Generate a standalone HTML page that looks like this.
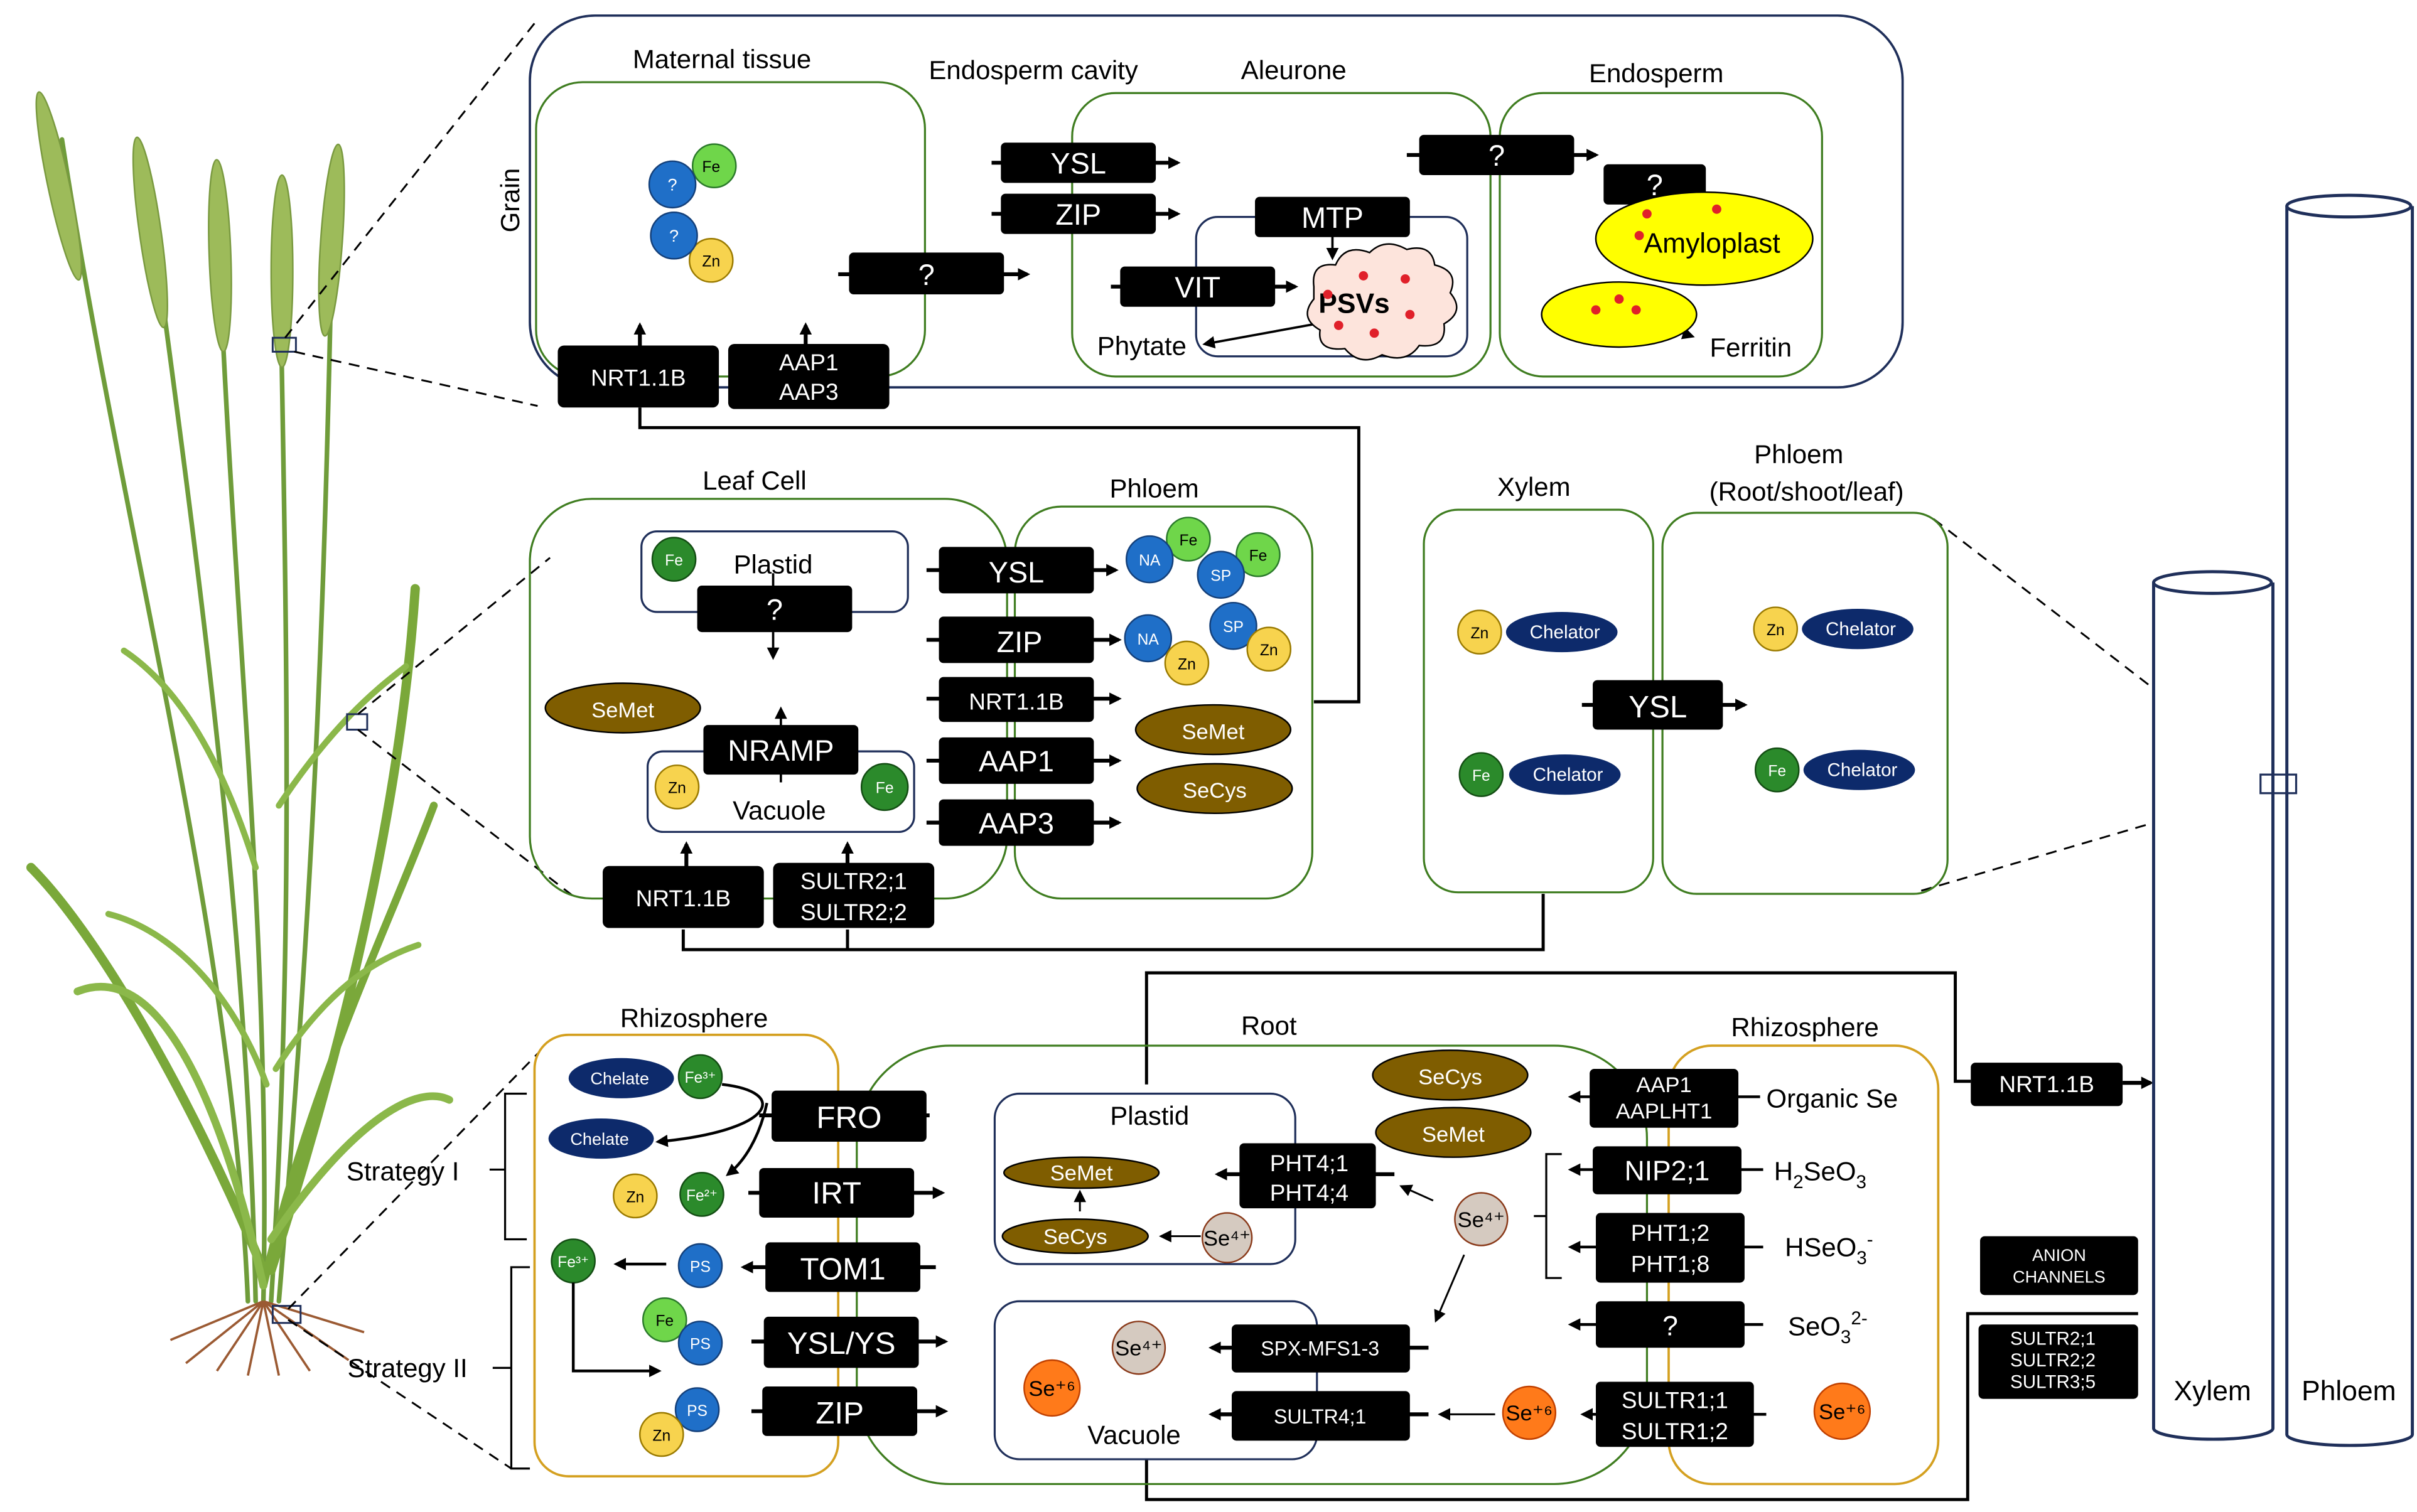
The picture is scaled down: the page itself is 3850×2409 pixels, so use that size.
<!DOCTYPE html>
<html><head><meta charset="utf-8"><style>
html,body{margin:0;padding:0;background:#fff}
svg{display:block}
text{font-family:"Liberation Sans",sans-serif}
</style></head><body>
<svg width="3850" height="2409" viewBox="0 0 1560 976" xmlns="http://www.w3.org/2000/svg">
<defs>
<marker id="a" markerWidth="8" markerHeight="8" refX="6" refY="4" orient="auto" markerUnits="userSpaceOnUse"><path d="M0,0 L8,4 L0,8 z" fill="#000"/></marker>
</defs>
<rect width="1560" height="976" fill="#fff"/>

<!-- ===== Plant ===== -->
<g fill="none" stroke-linecap="round">
<path d="M160,840 C150,600 80,350 40,90" stroke="#6f9c3a" stroke-width="3"/>
<path d="M165,840 C160,600 130,380 95,120" stroke="#6f9c3a" stroke-width="3"/>
<path d="M170,840 C175,600 150,400 140,130" stroke="#6f9c3a" stroke-width="3"/>
<path d="M175,840 C190,600 185,420 180,130" stroke="#6f9c3a" stroke-width="3"/>
<path d="M180,840 C200,600 210,420 215,110" stroke="#6f9c3a" stroke-width="3"/>
<path d="M170,820 C120,700 60,600 20,560" stroke="#7aa83a" stroke-width="6"/>
<path d="M175,820 C230,650 260,500 268,380" stroke="#7aa83a" stroke-width="6"/>
<path d="M170,830 C200,700 250,600 280,520" stroke="#7aa83a" stroke-width="5"/>
<path d="M170,830 C140,700 100,620 50,640" stroke="#8bb84a" stroke-width="5"/>
<path d="M175,800 C230,720 270,700 290,710" stroke="#8bb84a" stroke-width="5"/>
<path d="M165,560 C140,480 110,440 80,420" stroke="#8bb84a" stroke-width="4"/>
<path d="M180,520 C220,460 250,440 262,430" stroke="#8bb84a" stroke-width="4"/>
<path d="M172,700 C150,640 110,600 70,590" stroke="#8bb84a" stroke-width="4"/>
<path d="M178,690 C210,640 240,620 270,610" stroke="#8bb84a" stroke-width="4"/>
</g>
<g fill="#9dbb5a" stroke="#7a9a40" stroke-width="1">
<ellipse cx="38" cy="120" rx="7" ry="62" transform="rotate(-12 38 120)"/>
<ellipse cx="97" cy="150" rx="7" ry="62" transform="rotate(-8 97 150)"/>
<ellipse cx="142" cy="165" rx="7" ry="62" transform="rotate(-2 142 165)"/>
<ellipse cx="182" cy="175" rx="7" ry="62"/>
<ellipse cx="214" cy="155" rx="7" ry="62" transform="rotate(4 214 155)"/>
</g>
<g stroke="#9b5a33" stroke-width="1.5" fill="none">
<path d="M170,840 L120,880 M170,840 L140,885 M170,840 L160,888 M170,840 L180,888 M170,840 L200,885 M170,840 L225,878 M170,840 L110,865 M170,840 L235,860"/>
</g>
<rect x="176" y="218" width="15" height="9" fill="none" stroke="#1f2f5a" stroke-width="1.2"/>
<rect x="224" y="461" width="13" height="10" fill="none" stroke="#1f2f5a" stroke-width="1.2"/>
<rect x="176" y="843" width="18" height="11" fill="none" stroke="#1f2f5a" stroke-width="1.2"/>
<g stroke="#000" stroke-width="1.2" stroke-dasharray="7,5" fill="none">
<path d="M184,218 L345,15"/><path d="M190,227 L347,262"/>
<path d="M231,461 L355,360"/><path d="M231,471 L372,580"/>
<path d="M186,845 L355,672"/><path d="M186,852 L330,948"/>
<path d="M1248,335 L1462,500"/><path d="M1240,575 L1462,510"/>
</g>

<!-- ===== Grain ===== -->
<rect x="342" y="10" width="886" height="240" rx="42" fill="none" stroke="#1f2f5a" stroke-width="1.5"/>
<text x="335" y="150" font-size="17" transform="rotate(-90 335 150)">Grain</text>
<rect x="346" y="53" width="251" height="190" rx="30" fill="none" stroke="#3f7d20" stroke-width="1.3"/>
<rect x="692" y="60" width="270" height="183" rx="28" fill="none" stroke="#3f7d20" stroke-width="1.3"/>
<rect x="968" y="60" width="208" height="183" rx="28" fill="none" stroke="#3f7d20" stroke-width="1.3"/>
<g font-size="17" text-anchor="middle">
<text x="466" y="44">Maternal tissue</text>
<text x="667" y="51">Endosperm cavity</text>
<text x="835" y="51">Aleurone</text>
<text x="1069" y="53">Endosperm</text>
</g>
<circle cx="461" cy="107" r="14" fill="#6fd64a" stroke="#2b7a2b"/><text x="459" y="111" font-size="10" text-anchor="middle">Fe</text>
<circle cx="434" cy="119" r="15" fill="#1f6fc8" stroke="#14407a"/><text x="434" y="123" font-size="11" fill="#fff" text-anchor="middle">?</text>
<circle cx="459" cy="168" r="14" fill="#f7d34e" stroke="#9a7a00"/><text x="459" y="172" font-size="10" text-anchor="middle">Zn</text>
<circle cx="435" cy="152" r="15" fill="#1f6fc8" stroke="#14407a"/><text x="435" y="156" font-size="11" fill="#fff" text-anchor="middle">?</text>

<g stroke="#000" stroke-width="2.5">
<line x1="640" y1="105" x2="760" y2="105" marker-end="url(#a)"/>
<line x1="640" y1="138" x2="760" y2="138" marker-end="url(#a)"/>
<line x1="541" y1="177" x2="663" y2="177" marker-end="url(#a)"/>
<line x1="717" y1="185" x2="836" y2="185" marker-end="url(#a)"/>
<line x1="908" y1="100" x2="1030" y2="100" marker-end="url(#a)"/>
<line x1="413" y1="230" x2="413" y2="210" marker-end="url(#a)"/>
<line x1="520" y1="230" x2="520" y2="210" marker-end="url(#a)"/>
</g>
<g stroke="#000" stroke-width="1.5">
<line x1="860" y1="150" x2="860" y2="166" marker-end="url(#a)"/>
<line x1="1068" y1="128" x2="1068" y2="144" marker-end="url(#a)"/>
<line x1="855" y1="208" x2="778" y2="222" marker-end="url(#a)"/>
<line x1="1047" y1="202" x2="1092" y2="217" marker-end="url(#a)"/>
</g>
<rect x="772" y="140" width="175" height="90" rx="14" fill="none" stroke="#1f2f5a" stroke-width="1.3"/>
<g fill="#000">
<rect x="646" y="92" width="100" height="26" rx="3"/>
<rect x="646" y="125" width="100" height="26" rx="3"/>
<rect x="548" y="163" width="100" height="27" rx="3"/>
<rect x="810" y="127" width="100" height="26" rx="3"/>
<rect x="723" y="172" width="100" height="26" rx="3"/>
<rect x="916" y="87" width="100" height="26" rx="3"/>
<rect x="1035" y="106" width="66" height="26" rx="3"/>
<rect x="360" y="223" width="104" height="40" rx="4"/>
<rect x="470" y="222" width="104" height="42" rx="4"/>
</g>
<g fill="#fff" font-size="19" text-anchor="middle">
<text x="696" y="112">YSL</text><text x="696" y="145">ZIP</text>
<text x="598" y="184">?</text><text x="860" y="147">MTP</text>
<text x="773" y="192">VIT</text><text x="966" y="107">?</text>
<text x="1068" y="126">?</text>
<text x="412" y="249" font-size="15">NRT1.1B</text>
<text x="522" y="239" font-size="15">AAP1</text><text x="522" y="258" font-size="15">AAP3</text>
</g>
<path d="M848,185 q-2,-16 14,-14 q6,-14 22,-8 q10,-10 24,-2 q16,-4 18,10 q16,4 10,18 q10,12 -4,20 q2,16 -16,14 q-8,12 -24,6 q-14,8 -24,-4 q-18,2 -16,-12 q-14,-8 -4,-20z" fill="#fde4dc" stroke="#000" stroke-width="1"/>
<text x="874" y="202" font-size="18" font-weight="bold" text-anchor="middle">PSVs</text>
<g fill="#e0202a"><circle cx="857" cy="190" r="3"/><circle cx="880" cy="178" r="3"/><circle cx="907" cy="180" r="3"/><circle cx="910" cy="203" r="3"/><circle cx="887" cy="215" r="3"/><circle cx="864" cy="210" r="3"/></g>
<text x="737" y="229" font-size="17" text-anchor="middle">Phytate</text>
<ellipse cx="1100" cy="154" rx="70" ry="30" fill="#ffff00" stroke="#000"/>
<text x="1105" y="163" font-size="18" text-anchor="middle">Amyloplast</text>
<ellipse cx="1045" cy="203" rx="50" ry="21" fill="#ffff00" stroke="#000"/>
<g fill="#e0202a"><circle cx="1063" cy="138" r="3"/><circle cx="1108" cy="135" r="3"/><circle cx="1058" cy="152" r="3"/><circle cx="1045" cy="193" r="3"/><circle cx="1056" cy="200" r="3"/><circle cx="1030" cy="200" r="3"/></g>
<text x="1130" y="230" font-size="17" text-anchor="middle">Ferritin</text>

<g stroke="#000" stroke-width="2" fill="none">
<path d="M413,263 V276 H877 V453 H848"/>
<path d="M441,600 V613 H996 V577"/>
<path d="M547,600 V613"/>
<path d="M740,700 V628 H1262 V698 H1272"/>
<path d="M740,940 V968 H1270 V848 H1380"/>
</g>
<g stroke="#000" stroke-width="2.5">
<line x1="1370" y1="699" x2="1388" y2="699" marker-end="url(#a)"/>
</g>

<!-- ===== Leaf ===== -->
<rect x="342" y="322" width="308" height="258" rx="40" fill="none" stroke="#3f7d20" stroke-width="1.3"/>
<rect x="655" y="327" width="192" height="253" rx="30" fill="none" stroke="#3f7d20" stroke-width="1.3"/>
<text x="487" y="316" font-size="17" text-anchor="middle">Leaf Cell</text>
<text x="745" y="321" font-size="17" text-anchor="middle">Phloem</text>
<rect x="414" y="343" width="172" height="52" rx="10" fill="none" stroke="#1f2f5a" stroke-width="1.3"/>
<rect x="418" y="485" width="172" height="52" rx="10" fill="none" stroke="#1f2f5a" stroke-width="1.3"/>
<text x="499" y="370" font-size="17" text-anchor="middle">Plastid</text>
<text x="503" y="529" font-size="17" text-anchor="middle">Vacuole</text>
<circle cx="435" cy="361" r="14" fill="#2b8a2b" stroke="#134d13"/><text x="435" y="365" font-size="10" fill="#fff" text-anchor="middle">Fe</text>
<circle cx="437" cy="508" r="14" fill="#f7d34e" stroke="#9a7a00"/><text x="437" y="512" font-size="10" text-anchor="middle">Zn</text>
<circle cx="571" cy="508" r="15" fill="#2b8a2b" stroke="#134d13"/><text x="571" y="512" font-size="10" fill="#fff" text-anchor="middle">Fe</text>
<ellipse cx="402" cy="457" rx="50" ry="16" fill="#7f5d00" stroke="#000"/><text x="402" y="463" font-size="14" fill="#fff" text-anchor="middle">SeMet</text>
<g stroke="#000" stroke-width="2.5">
<line x1="598" y1="368" x2="720" y2="368" marker-end="url(#a)"/>
<line x1="598" y1="413" x2="722" y2="413" marker-end="url(#a)"/>
<line x1="598" y1="451" x2="722" y2="451" marker-end="url(#a)"/>
<line x1="598" y1="491" x2="722" y2="491" marker-end="url(#a)"/>
<line x1="598" y1="531" x2="722" y2="531" marker-end="url(#a)"/>
<line x1="443" y1="560" x2="443" y2="545" marker-end="url(#a)"/>
<line x1="547" y1="560" x2="547" y2="545" marker-end="url(#a)"/>
</g>
<g stroke="#000" stroke-width="1.5">
<line x1="499" y1="370" x2="499" y2="378" />
<line x1="499" y1="408" x2="499" y2="424" marker-end="url(#a)"/>
<line x1="504" y1="505" x2="504" y2="458" marker-end="url(#a)"/>
</g>
<g fill="#000">
<rect x="450" y="378" width="100" height="30" rx="3"/>
<rect x="454" y="468" width="100" height="32" rx="3"/>
<rect x="606" y="353" width="100" height="30" rx="3"/>
<rect x="606" y="398" width="100" height="30" rx="3"/>
<rect x="606" y="437" width="100" height="29" rx="3"/>
<rect x="606" y="476" width="100" height="30" rx="3"/>
<rect x="606" y="516" width="100" height="30" rx="3"/>
<rect x="389" y="559" width="104" height="40" rx="4"/>
<rect x="499" y="557" width="104" height="42" rx="4"/>
</g>
<g fill="#fff" font-size="19" text-anchor="middle">
<text x="500" y="400">?</text><text x="504" y="491">NRAMP</text>
<text x="656" y="376">YSL</text><text x="658" y="421">ZIP</text>
<text x="656" y="458" font-size="15">NRT1.1B</text>
<text x="656" y="498">AAP1</text><text x="656" y="538">AAP3</text>
<text x="441" y="585" font-size="15">NRT1.1B</text>
<text x="551" y="574" font-size="15">SULTR2;1</text><text x="551" y="594" font-size="15">SULTR2;2</text>
</g>
<circle cx="767" cy="348" r="14" fill="#6fd64a" stroke="#2b7a2b"/><text x="767" y="352" font-size="10" text-anchor="middle">Fe</text>
<circle cx="742" cy="361" r="15" fill="#1f6fc8" stroke="#14407a"/><text x="742" y="365" font-size="10" fill="#fff" text-anchor="middle">NA</text>
<circle cx="812" cy="358" r="14" fill="#6fd64a" stroke="#2b7a2b"/><text x="812" y="362" font-size="10" text-anchor="middle">Fe</text>
<circle cx="788" cy="371" r="15" fill="#1f6fc8" stroke="#14407a"/><text x="788" y="375" font-size="10" fill="#fff" text-anchor="middle">SP</text>
<circle cx="741" cy="412" r="15" fill="#1f6fc8" stroke="#14407a"/><text x="741" y="416" font-size="10" fill="#fff" text-anchor="middle">NA</text>
<circle cx="766" cy="428" r="14" fill="#f7d34e" stroke="#9a7a00"/><text x="766" y="432" font-size="10" text-anchor="middle">Zn</text>
<circle cx="796" cy="404" r="15" fill="#1f6fc8" stroke="#14407a"/><text x="796" y="408" font-size="10" fill="#fff" text-anchor="middle">SP</text>
<circle cx="819" cy="419" r="14" fill="#f7d34e" stroke="#9a7a00"/><text x="819" y="423" font-size="10" text-anchor="middle">Zn</text>
<ellipse cx="783" cy="471" rx="50" ry="16" fill="#7f5d00" stroke="#000"/><text x="783" y="477" font-size="14" fill="#fff" text-anchor="middle">SeMet</text>
<ellipse cx="784" cy="509" rx="50" ry="16" fill="#7f5d00" stroke="#000"/><text x="784" y="515" font-size="14" fill="#fff" text-anchor="middle">SeCys</text>

<rect x="919" y="329" width="148" height="247" rx="22" fill="none" stroke="#3f7d20" stroke-width="1.3"/>
<rect x="1073" y="331" width="184" height="246" rx="22" fill="none" stroke="#3f7d20" stroke-width="1.3"/>
<text x="990" y="320" font-size="17" text-anchor="middle">Xylem</text>
<text x="1161" y="299" font-size="17" text-anchor="middle">Phloem</text>
<text x="1166" y="323" font-size="17" text-anchor="middle">(Root/shoot/leaf)</text>
<g font-size="12" text-anchor="middle">
<circle cx="955" cy="408" r="14" fill="#f7d34e" stroke="#9a7a00"/><text x="955" y="412" font-size="10">Zn</text>
<ellipse cx="1008" cy="408" rx="36" ry="13" fill="#0d2a6b"/><text x="1010" y="412" fill="#fff">Chelator</text>
<circle cx="956" cy="500" r="14" fill="#2b8a2b" stroke="#134d13"/><text x="956" y="504" font-size="10" fill="#fff">Fe</text>
<ellipse cx="1010" cy="500" rx="36" ry="13" fill="#0d2a6b"/><text x="1012" y="504" fill="#fff">Chelator</text>
<circle cx="1146" cy="406" r="14" fill="#f7d34e" stroke="#9a7a00"/><text x="1146" y="410" font-size="10">Zn</text>
<ellipse cx="1199" cy="406" rx="36" ry="13" fill="#0d2a6b"/><text x="1201" y="410" fill="#fff">Chelator</text>
<circle cx="1147" cy="497" r="14" fill="#2b8a2b" stroke="#134d13"/><text x="1147" y="501" font-size="10" fill="#fff">Fe</text>
<ellipse cx="1200" cy="497" rx="36" ry="13" fill="#0d2a6b"/><text x="1202" y="501" fill="#fff">Chelator</text>
</g>
<line x1="1021" y1="455" x2="1126" y2="455" stroke="#000" stroke-width="2.5" marker-end="url(#a)"/>
<rect x="1028" y="439" width="84" height="32" rx="3" fill="#000"/>
<text x="1070" y="463" font-size="20" fill="#fff" text-anchor="middle">YSL</text>

<g fill="#fff" stroke="#1f2f5a" stroke-width="2">
<path d="M1390,376 V922 A38,7 0 0 0 1467,922 V376"/>
<ellipse cx="1428" cy="376" rx="38" ry="7"/>
<path d="M1476,133 V926 A40,7 0 0 0 1557,926 V133"/>
<ellipse cx="1516" cy="133" rx="40" ry="7"/>
</g>
<rect x="1459" y="500" width="23" height="12" fill="none" stroke="#1f2f5a" stroke-width="1.3"/>
<text x="1428" y="904" font-size="18" text-anchor="middle">Xylem</text>
<text x="1516" y="904" font-size="18" text-anchor="middle">Phloem</text>
<rect x="1272" y="686" width="98" height="28" rx="3" fill="#000"/>
<text x="1321" y="705" font-size="15" fill="#fff" text-anchor="middle">NRT1.1B</text>
<rect x="1278" y="798" width="102" height="38" rx="3" fill="#000"/>
<text x="1329" y="814" font-size="11" fill="#fff" font-family="Liberation Serif" text-anchor="middle">ANION</text>
<text x="1329" y="828" font-size="11" fill="#fff" font-family="Liberation Serif" text-anchor="middle">CHANNELS</text>
<rect x="1277" y="855" width="103" height="48" rx="3" fill="#000"/>
<g font-size="12" fill="#fff" text-anchor="middle">
<text x="1325" y="868" font-family="Liberation Serif">SULTR2;1</text><text x="1325" y="882" font-family="Liberation Serif">SULTR2;2</text><text x="1325" y="896" font-family="Liberation Serif">SULTR3;5</text>
</g>

<!-- ===== Root ===== -->
<rect x="553" y="675" width="510" height="283" rx="60" fill="none" stroke="#3f7d20" stroke-width="1.3"/>
<rect x="345" y="668" width="196" height="285" rx="22" fill="#fff" stroke="#d4a020" stroke-width="1.5"/>
<rect x="1077" y="675" width="174" height="283" rx="28" fill="none" stroke="#d4a020" stroke-width="1.5"/>
<text x="448" y="663" font-size="17" text-anchor="middle">Rhizosphere</text>
<text x="819" y="668" font-size="17" text-anchor="middle">Root</text>
<text x="1165" y="669" font-size="17" text-anchor="middle">Rhizosphere</text>
<rect x="642" y="706" width="194" height="110" rx="16" fill="#fff" stroke="#1f2f5a" stroke-width="1.3"/>
<rect x="642" y="840" width="208" height="102" rx="16" fill="#fff" stroke="#1f2f5a" stroke-width="1.3"/>
<text x="742" y="726" font-size="17" text-anchor="middle">Plastid</text>
<text x="732" y="932" font-size="17" text-anchor="middle">Vacuole</text>
<text x="260" y="762" font-size="17" text-anchor="middle">Strategy I</text>
<text x="263" y="889" font-size="17" text-anchor="middle">Strategy II</text>
<g stroke="#000" stroke-width="1.3" fill="none">
<path d="M340,706 H326 V800 H340 M326,755 H316"/>
<path d="M342,818 H330 V948 H342 M330,883 H318"/>
<path d="M1008,745 H998 V825 H1008 M998,785 H990"/>
</g>
<g font-size="11" text-anchor="middle">
<ellipse cx="401" cy="696" rx="34" ry="13" fill="#0d2a6b"/><text x="400" y="700" fill="#fff">Chelate</text>
<circle cx="452" cy="695" r="14" fill="#2b8a2b" stroke="#134d13"/><text x="452" y="699" font-size="10" fill="#fff">Fe³⁺</text>
<ellipse cx="388" cy="735" rx="34" ry="13" fill="#0d2a6b"/><text x="387" y="739" fill="#fff">Chelate</text>
<circle cx="410" cy="772" r="14" fill="#f7d34e" stroke="#9a7a00"/><text x="410" y="776" font-size="10">Zn</text>
<circle cx="453" cy="771" r="14" fill="#2b8a2b" stroke="#134d13"/><text x="453" y="775" font-size="10" fill="#fff">Fe²⁺</text>
<circle cx="370" cy="814" r="14" fill="#2b8a2b" stroke="#134d13"/><text x="370" y="818" font-size="10" fill="#fff">Fe³⁺</text>
<circle cx="452" cy="817" r="14" fill="#1f6fc8" stroke="#14407a"/><text x="452" y="821" font-size="10" fill="#fff">PS</text>
<circle cx="429" cy="852" r="14" fill="#6fd64a" stroke="#2b7a2b"/><text x="429" y="856" font-size="10">Fe</text>
<circle cx="452" cy="867" r="14" fill="#1f6fc8" stroke="#14407a"/><text x="452" y="871" font-size="10" fill="#fff">PS</text>
<circle cx="450" cy="910" r="14" fill="#1f6fc8" stroke="#14407a"/><text x="450" y="914" font-size="10" fill="#fff">PS</text>
<circle cx="427" cy="926" r="14" fill="#f7d34e" stroke="#9a7a00"/><text x="427" y="930" font-size="10">Zn</text>
</g>
<g stroke="#000" stroke-width="1.8" fill="none">
<path d="M466,700 C510,705 500,730 425,737" marker-end="url(#a)"/>
<path d="M495,712 C490,735 480,750 470,758" marker-end="url(#a)"/>
<path d="M370,828 V885 H425" marker-end="url(#a)"/>
<line x1="430" y1="816" x2="398" y2="816" marker-end="url(#a)"/>
<line x1="1136" y1="708" x2="1014" y2="708" marker-end="url(#a)"/>
<line x1="1138" y1="755" x2="1014" y2="755" marker-end="url(#a)"/>
<line x1="1138" y1="805" x2="1014" y2="805" marker-end="url(#a)"/>
<line x1="1138" y1="855" x2="1014" y2="855" marker-end="url(#a)"/>
<line x1="1140" y1="913" x2="1022" y2="913" marker-end="url(#a)"/>
</g>
<g stroke="#000" stroke-width="2.5">
<line x1="490" y1="720" x2="600" y2="720"/>
<line x1="483" y1="770" x2="608" y2="770" marker-end="url(#a)"/>
<line x1="604" y1="818" x2="480" y2="818" marker-end="url(#a)"/>
<line x1="485" y1="866" x2="610" y2="866" marker-end="url(#a)"/>
<line x1="485" y1="911" x2="610" y2="911" marker-end="url(#a)"/>
<line x1="900" y1="758" x2="786" y2="758" marker-end="url(#a)"/>
<line x1="922" y1="870" x2="782" y2="870" marker-end="url(#a)"/>
<line x1="922" y1="913" x2="782" y2="913" marker-end="url(#a)"/>
</g>
<g stroke="#000" stroke-width="1.2">
<line x1="925" y1="775" x2="905" y2="766" marker-end="url(#a)"/>
<line x1="945" y1="810" x2="927" y2="852" marker-end="url(#a)"/>
<line x1="965" y1="913" x2="930" y2="913" marker-end="url(#a)"/>
<line x1="775" y1="798" x2="750" y2="798" marker-end="url(#a)"/>
<line x1="697" y1="782" x2="697" y2="770" marker-end="url(#a)"/>
</g>
<g fill="#000">
<rect x="498" y="704" width="100" height="33" rx="3"/>
<rect x="490" y="754" width="100" height="32" rx="3"/>
<rect x="494" y="802" width="100" height="32" rx="3"/>
<rect x="493" y="850" width="100" height="33" rx="3"/>
<rect x="492" y="895" width="100" height="32" rx="3"/>
<rect x="800" y="738" width="88" height="42" rx="3"/>
<rect x="795" y="855" width="115" height="31" rx="3"/>
<rect x="795" y="898" width="115" height="32" rx="3"/>
<rect x="1026" y="690" width="96" height="38" rx="3"/>
<rect x="1028" y="740" width="96" height="31" rx="3"/>
<rect x="1030" y="783" width="96" height="45" rx="3"/>
<rect x="1030" y="840" width="96" height="30" rx="3"/>
<rect x="1030" y="892" width="102" height="42" rx="3"/>
</g>
<g fill="#fff" font-size="20" text-anchor="middle">
<text x="548" y="728">FRO</text><text x="540" y="777">IRT</text>
<text x="544" y="826">TOM1</text><text x="543" y="874">YSL/YS</text>
<text x="542" y="919">ZIP</text>
<text x="845" y="756" font-size="15">PHT4;1</text><text x="845" y="775" font-size="15">PHT4;4</text>
<text x="852" y="875" font-size="13" font-family="Liberation Serif">SPX-MFS1-3</text>
<text x="852" y="919" font-size="13" font-family="Liberation Serif">SULTR4;1</text>
<text x="1074" y="705" font-size="14">AAP1</text><text x="1074" y="722" font-size="14">AAPLHT1</text>
<text x="1076" y="762" font-size="18">NIP2;1</text>
<text x="1078" y="801" font-size="15">PHT1;2</text><text x="1078" y="821" font-size="15">PHT1;8</text>
<text x="1078" y="862" font-size="18">?</text>
<text x="1081" y="909" font-size="15">SULTR1;1</text><text x="1081" y="929" font-size="15">SULTR1;2</text>
</g>
<g font-size="17">
<text x="1140" y="715">Organic Se</text>
<text x="1145" y="762">H<tspan font-size="12" dy="5">2</tspan><tspan dy="-5">SeO</tspan><tspan font-size="12" dy="5">3</tspan></text>
<text x="1152" y="811">HSeO<tspan font-size="12" dy="5">3</tspan><tspan font-size="12" dy="-12">-</tspan></text>
<text x="1154" y="862">SeO<tspan font-size="12" dy="5">3</tspan><tspan font-size="12" dy="-12">2-</tspan></text>
</g>
<g font-size="14" text-anchor="middle">
<ellipse cx="936" cy="694" rx="50" ry="16" fill="#7f5d00" stroke="#000"/><text x="936" y="700" fill="#fff">SeCys</text>
<ellipse cx="938" cy="731" rx="50" ry="16" fill="#7f5d00" stroke="#000"/><text x="938" y="737" fill="#fff">SeMet</text>
<ellipse cx="698" cy="757" rx="50" ry="10" fill="#7f5d00" stroke="#000"/><text x="698" y="762" fill="#fff">SeMet</text>
<ellipse cx="694" cy="798" rx="47" ry="11" fill="#7f5d00" stroke="#000"/><text x="694" y="803" fill="#fff">SeCys</text>
<circle cx="956" cy="787" r="17" fill="#d5cac0" stroke="#8a3a1a"/><text x="956" y="792">Se⁴⁺</text>
<circle cx="792" cy="799" r="16" fill="#d5cac0" stroke="#8a3a1a"/><text x="792" y="804">Se⁴⁺</text>
<circle cx="735" cy="870" r="17" fill="#d5cac0" stroke="#8a3a1a"/><text x="735" y="875">Se⁴⁺</text>
<circle cx="679" cy="896" r="18" fill="#ff7a1a" stroke="#c04000"/><text x="679" y="901">Se⁺⁶</text>
<circle cx="987" cy="912" r="17" fill="#ff7a1a" stroke="#c04000"/><text x="987" y="917">Se⁺⁶</text>
<circle cx="1189" cy="911" r="18" fill="#ff7a1a" stroke="#c04000"/><text x="1189" y="916">Se⁺⁶</text>
</g>
</svg>
</body></html>
